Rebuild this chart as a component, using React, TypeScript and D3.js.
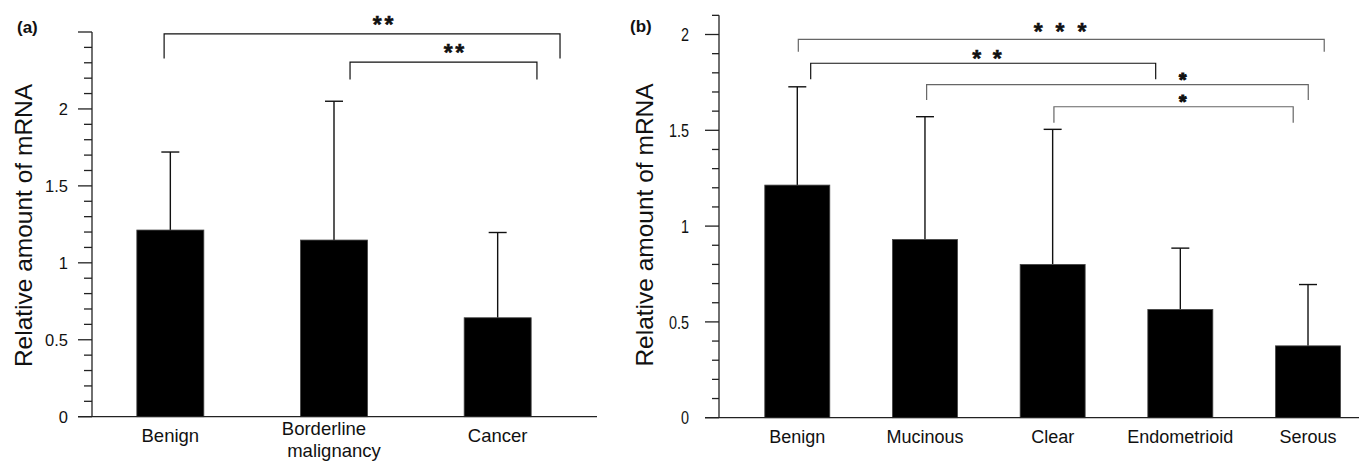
import React from "react";
import * as d3 from "d3";

// ---------- Data ----------
const catsA = ["Benign", "Borderline malignancy", "Cancer"];
const meanA = [1.213, 1.148, 0.643];
const errTopA = [1.72, 2.05, 1.197];
const tickLabelsA = [0, 0.5, 1, 1.5, 2];

const catsB = ["Benign", "Mucinous", "Clear", "Endometrioid", "Serous"];
const meanB = [1.214, 0.93, 0.8, 0.565, 0.375];
const errTopB = [1.727, 1.571, 1.505, 0.885, 0.695];
const tickLabelsB = [0, 0.5, 1, 1.5, 2];

// brackets: index positions (category units), line level, drop level (data units), label
const bracketFromA = [-0.038, 1.098];
const bracketToA = [2.381, 2.24];
const bracketYA = [2.488, 2.304];
const bracketDropA = [2.328, 2.192];
const bracketTextXA = [1.3, 1.733];
const bracketLabelA = ["**", "**"];

const bracketFromB = [0.008, 0.105, 1.013, 2.01];
const bracketToB = [4.127, 2.807, 4.002, 3.884];
const bracketYB = [1.975, 1.85, 1.738, 1.623];
const bracketDropB = [1.91, 1.766, 1.658, 1.54];
const bracketTextXB = [2.058, 1.486, 3.018, 3.018];
const bracketLabelB = ["* * *", "* *", "*", "*"];
const bracketDarkB = [false, true, false, false];

const FONT = "'Liberation Sans', Arial, Helvetica, sans-serif";

function YAxis({ y, x, max, major, minorLen, majorLen, labels, labelRight, fontSize, scaleX }) {
  const ticks = d3.range(0, Math.round(max * 10) + 1).map((i) => i / 10);
  return (
    <g>
      <line x1={x} x2={x} y1={y(0)} y2={y(max)} stroke="#222" strokeWidth={1.3} />
      {ticks.map((t) => {
        const isMajor = Math.abs((t / major) - Math.round(t / major)) < 1e-6;
        return (
          <line
            key={t}
            x1={x - (isMajor ? majorLen : minorLen)}
            x2={x}
            y1={y(t)}
            y2={y(t)}
            stroke="#222"
            strokeWidth={1.3}
          />
        );
      })}
      {labels.map((t) => (
        <g key={"l" + t} transform={`translate(${labelRight},${y(t)}) scale(${scaleX},1)`}>
          <text
            x={0}
            y={0}
            textAnchor="end"
            dominantBaseline="central"
            fontSize={fontSize}
            fontFamily={FONT}
            fill="#111"
          >
            {String(t)}
          </text>
        </g>
      ))}
    </g>
  );
}

function Bars({ x, y, cats, means, tops, barW, capW }) {
  return (
    <g>
      {cats.map((c, i) => {
        const cx = (x(c) as number) + x.bandwidth() / 2;
        return (
          <g key={c}>
            <line x1={cx} x2={cx} y1={y(means[i])} y2={y(tops[i])} stroke="#111" strokeWidth={1.4} />
            <line x1={cx - capW / 2} x2={cx + capW / 2} y1={y(tops[i])} y2={y(tops[i])} stroke="#111" strokeWidth={1.4} />
            <rect x={cx - barW / 2} y={y(means[i])} width={barW} height={y(0) - y(means[i])} fill="#000" stroke="#444" strokeWidth={0.8} />
          </g>
        );
      })}
    </g>
  );
}

function Brackets({ xi, y, from, to, lv, drop, tx, labels, dark, textGap, spacing }) {
  return (
    <g>
      {from.map((f, i) => {
        const x1 = xi(f);
        const x2 = xi(to[i]);
        const yl = y(lv[i]);
        const yd = y(drop[i]);
        const col = dark[i] ? "#111" : "#666";
        const single = labels[i].length === 1;
        const size = single ? 19 : 23;
        return (
          <g key={i}>
            <path d={`M${x1},${yd}V${yl}H${x2}V${yd}`} fill="none" stroke={col} strokeWidth={1.2} />
            <text
              x={xi(tx[i]) + spacing[i] / 2}
              y={yl - textGap[i] + size * 0.58}
              textAnchor="middle"
              fontSize={size}
              fontWeight="bold"
              fontFamily={FONT}
              letterSpacing={spacing[i]}
              fill="#111"
              stroke="#111"
              strokeWidth={single ? 1.1 : 0.5}
            >
              {labels[i]}
            </text>
          </g>
        );
      })}
    </g>
  );
}

export default function App() {
  // Panel A scales
  const yA = d3.scaleLinear().domain([0, 2.5]).range([416.7, 32]);
  const xA = d3.scaleBand().domain(catsA).range([88.5, 579.5]).padding(0);
  const c0A = (xA(catsA[0]) as number) + xA.bandwidth() / 2;
  const xiA = (i: number) => c0A + i * xA.step();

  // Panel B scales
  const yB = d3.scaleLinear().domain([0, 2.1]).range([417.7, 15.34]);
  const xB = d3.scaleBand().domain(catsB).range([733.45, 1371.85]).padding(0);
  const c0B = (xB(catsB[0]) as number) + xB.bandwidth() / 2;
  const xiB = (i: number) => c0B + i * xB.step();

  const axisAX = 92;
  const axisBX = 719;

  return (
    <svg
      width={1359}
      height={462}
      style={{ position: "absolute", left: 0, top: 0, background: "#fff" }}
      fontFamily={FONT}
    >
      <rect x={0} y={0} width={1359} height={462} fill="#fff" />

      {/* ---------- Panel (a) ---------- */}
      <text x={17} y={33} fontSize={17} fontWeight="bold" fill="#111">(a)</text>
      <text
        transform={`translate(32,225.5) rotate(-90)`}
        textAnchor="middle"
        fontSize={24.5}
        fill="#111"
      >
        Relative amount of mRNA
      </text>
      <Bars x={xA} y={yA} cats={catsA} means={meanA} tops={errTopA} barW={67} capW={18} />
      <line x1={78} x2={597} y1={yA(0)} y2={yA(0)} stroke="#222" strokeWidth={1.3} />
      <YAxis y={yA} x={axisAX} max={2.5} major={0.5} minorLen={8} majorLen={14} labels={tickLabelsA} labelRight={68} fontSize={16.5} scaleX={1} />
      {catsA.map((c) => {
        const cx = (xA(c) as number) + xA.bandwidth() / 2;
        const words = c === "Borderline malignancy" ? ["Borderline", "malignancy"] : [c];
        if (words.length === 2) {
          return (
            <g key={c}>
              <text x={cx - 10} y={435} textAnchor="middle" fontSize={18.5} fill="#111">{words[0]}</text>
              <text x={cx} y={457} textAnchor="middle" fontSize={18.5} fill="#111">{words[1]}</text>
            </g>
          );
        }
        return (
          <text key={c} x={cx} y={442} textAnchor="middle" fontSize={18.5} fill="#111">{c}</text>
        );
      })}
      <Brackets
        xi={xiA}
        y={yA}
        from={bracketFromA}
        to={bracketToA}
        lv={bracketYA}
        drop={bracketDropA}
        tx={bracketTextXA}
        labels={bracketLabelA}
        dark={[true, true]}
        textGap={[14, 14.7]}
        spacing={[2.6, 2.6]}
      />

      {/* ---------- Panel (b) ---------- */}
      <text x={630} y={32} fontSize={17} fontWeight="bold" fill="#111">(b)</text>
      <text
        transform={`translate(653,225) rotate(-90)`}
        textAnchor="middle"
        fontSize={24.5}
        fill="#111"
      >
        Relative amount of mRNA
      </text>
      <Bars x={xB} y={yB} cats={catsB} means={meanB} tops={errTopB} barW={65} capW={18} />
      <line x1={705} x2={1359} y1={yB(0)} y2={yB(0)} stroke="#222" strokeWidth={1.3} />
      <YAxis y={yB} x={axisBX} max={2.1} major={0.5} minorLen={7} majorLen={14} labels={tickLabelsB} labelRight={689} fontSize={18} scaleX={0.8} />
      {catsB.map((c) => {
        const cx = (xB(c) as number) + xB.bandwidth() / 2;
        return (
          <text key={c} x={cx} y={443} textAnchor="middle" fontSize={18} fill="#111">{c}</text>
        );
      })}
      <Brackets
        xi={xiB}
        y={yB}
        from={bracketFromB}
        to={bracketToB}
        lv={bracketYB}
        drop={bracketDropB}
        tx={bracketTextXB}
        labels={bracketLabelB}
        dark={bracketDarkB}
        textGap={[12.6, 10, 9.7, 10]}
        spacing={[3.3, 2.6, 0, 0]}
      />
    </svg>
  );
}
